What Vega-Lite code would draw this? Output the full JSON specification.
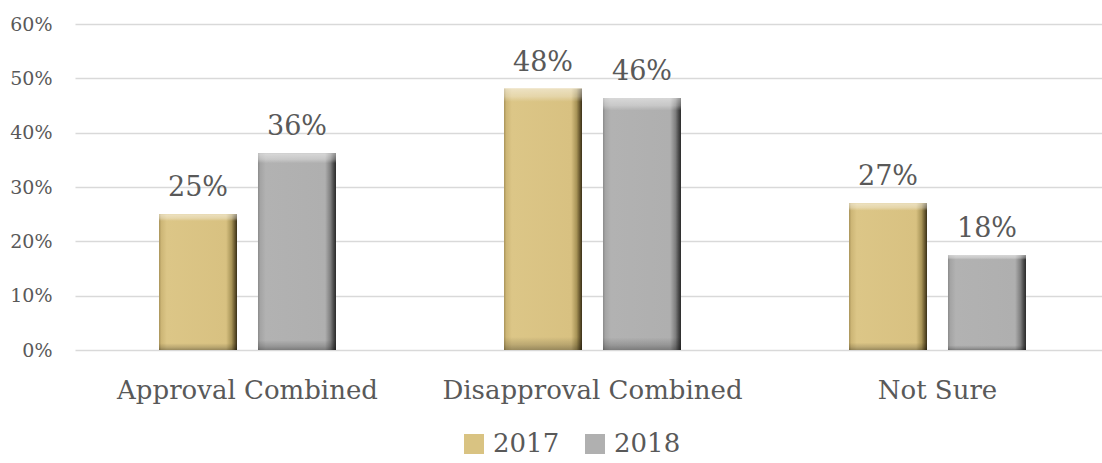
{
  "$schema": "https://vega.github.io/schema/vega-lite/v6.json",
  "autosize": {"type": "none"},
  "padding": {"left": 75, "top": 24, "right": 0, "bottom": 113},
  "width": 1027,
  "height": 326,
  "background": "white",
  "config": {"view": {"stroke": null}, "font": "DejaVu Serif"},
  "data": {"values": [
    {"category": "Approval Combined", "year": "2017", "value": 0.25, "label": "25%"},
    {"category": "Approval Combined", "year": "2018", "value": 0.362, "label": "36%"},
    {"category": "Disapproval Combined", "year": "2017", "value": 0.481, "label": "48%"},
    {"category": "Disapproval Combined", "year": "2018", "value": 0.464, "label": "46%"},
    {"category": "Not Sure", "year": "2017", "value": 0.27, "label": "27%"},
    {"category": "Not Sure", "year": "2018", "value": 0.175, "label": "18%"}
  ]},
  "encoding": {
    "x": {"field": "category", "type": "nominal", "sort": null,
      "scale": {"range": [0, 1035], "paddingInner": 0.487, "paddingOuter": 0.2435},
      "axis": {"title": null, "domain": false, "ticks": false, "labelAngle": 0, "labelFontSize": 26, "labelColor": "#595959", "labelPadding": 48, "labelBaseline": "alphabetic", "labelLimit": 500, "labelFont": "DejaVu Serif"}},
    "xOffset": {"field": "year", "type": "nominal", "scale": {"paddingInner": 0.212, "paddingOuter": 0}},
    "y": {"field": "value", "type": "quantitative",
      "scale": {"domain": [0, 0.6]},
      "axis": {"title": null, "format": ".0%", "values": [0, 0.1, 0.2, 0.3, 0.4, 0.5, 0.6], "labelOverlap": false, "domain": false, "ticks": false, "labelFontSize": 19, "labelColor": "#595959", "labelPadding": 23, "gridColor": "#d9d9d9", "gridWidth": 1.5, "labelFont": "DejaVu Serif"}}
  },
  "layer": [
    {
      "mark": {"type": "bar"},
      "encoding": {
        "color": {"field": "year", "type": "nominal",
          "scale": {"domain": ["2017", "2018"], "range": ["#d9c382", "#b0b0b0"]},
          "legend": {"title": null, "orient": "none", "legendX": 386, "legendY": 407, "direction": "horizontal", "symbolType": "square", "symbolSize": 400, "symbolStrokeWidth": 0, "labelFontSize": 26, "labelColor": "#595959", "labelFont": "DejaVu Serif", "columnPadding": 22, "labelOffset": 6}}
      }
    },
    {
      "transform": [{"filter": "datum.year == '2017'"}],
      "mark": {"type": "bar", "fill": {"gradient": "linear", "x1": 0, "y1": 0, "x2": 1, "y2": 0, "stops": [
        {"offset": 0, "color": "#a8935a"},
        {"offset": 0.03, "color": "#cdb676"},
        {"offset": 0.1, "color": "#dcc687"},
        {"offset": 0.86, "color": "#d8c181"},
        {"offset": 0.93, "color": "#a89457"},
        {"offset": 0.97, "color": "#6a5a30"},
        {"offset": 1, "color": "#3a3018"}
      ]}}
    },
    {
      "transform": [{"filter": "datum.year == '2018'"}],
      "mark": {"type": "bar", "fill": {"gradient": "linear", "x1": 0, "y1": 0, "x2": 1, "y2": 0, "stops": [
        {"offset": 0, "color": "#8a8a8a"},
        {"offset": 0.03, "color": "#a4a4a4"},
        {"offset": 0.1, "color": "#b2b2b2"},
        {"offset": 0.86, "color": "#afafaf"},
        {"offset": 0.93, "color": "#7e7e7e"},
        {"offset": 0.97, "color": "#4a4a4a"},
        {"offset": 1, "color": "#2a2a2a"}
      ]}}
    },
    {
      "mark": {"type": "bar", "fill": {"gradient": "linear", "x1": 0, "y1": 0, "x2": 0, "y2": 1, "stops": [
        {"offset": 0, "color": "rgba(255,255,255,0.5)"},
        {"offset": 0.03, "color": "rgba(255,255,255,0.3)"},
        {"offset": 0.05, "color": "rgba(255,255,255,0)"},
        {"offset": 0.95, "color": "rgba(0,0,0,0)"},
        {"offset": 0.98, "color": "rgba(0,0,0,0.15)"},
        {"offset": 1, "color": "rgba(0,0,0,0.3)"}
      ]}}
    },
    {
      "mark": {"type": "text", "baseline": "alphabetic", "dy": -18, "fontSize": 27, "color": "#595959", "font": "DejaVu Serif"},
      "encoding": {"text": {"field": "label"}}
    }
  ]
}
